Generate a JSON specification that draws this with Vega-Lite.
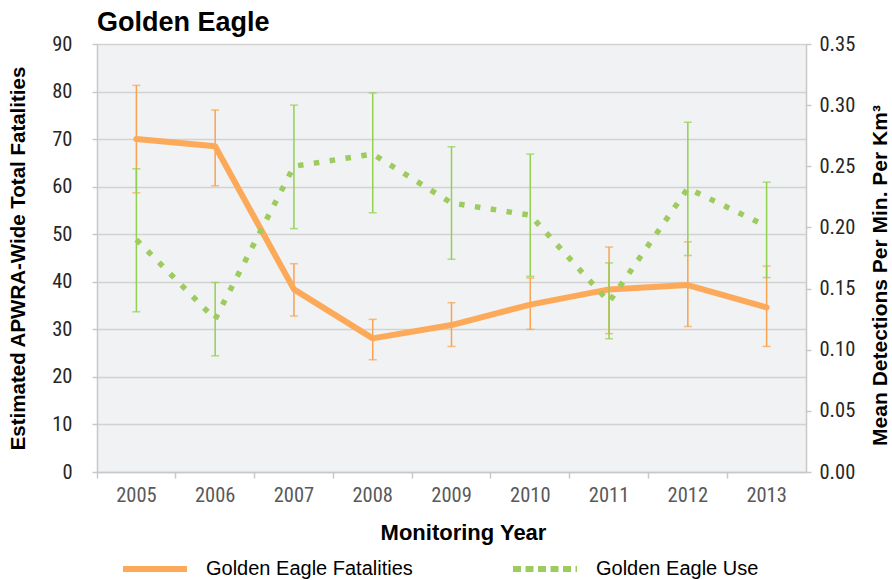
{
  "$schema": "https://vega.github.io/schema/vega-lite/v6.json",
  "width": 709,
  "height": 428,
  "autosize": {"type": "none"},
  "padding": {"left": 97, "top": 44, "right": 86, "bottom": 108},
  "background": "white",
  "config": {
    "view": {"fill": "#f1f2f4", "stroke": null},
    "font": "Liberation Sans",
    "legend": {
      "orient": "none",
      "legendX": 23,
      "legendY": 490,
      "direction": "horizontal",
      "padding": 0,
      "symbolType": "stroke",
      "symbolSize": 4096,
      "symbolStrokeWidth": 6,
      "labelFont": "Liberation Sans",
      "labelFontSize": 20,
      "labelColor": "#000000",
      "labelOffset": 16,
      "labelLimit": 400,
      "columnPadding": 88
    }
  },
  "title": {
    "text": "Golden Eagle",
    "anchor": "start",
    "frame": "group",
    "fontSize": 27,
    "fontWeight": "bold",
    "font": "Liberation Sans",
    "color": "#000000",
    "baseline": "alphabetic",
    "offset": -24
  },
  "data": {
    "values": [
      {"year": "2005", "fatal": 70.0, "fatal_lo": 58.7, "fatal_hi": 81.3, "use": 0.190, "use_lo": 0.131, "use_hi": 0.248},
      {"year": "2006", "fatal": 68.5, "fatal_lo": 60.2, "fatal_hi": 76.1, "use": 0.125, "use_lo": 0.095, "use_hi": 0.155},
      {"year": "2007", "fatal": 38.4, "fatal_lo": 32.8, "fatal_hi": 43.8, "use": 0.250, "use_lo": 0.199, "use_hi": 0.300},
      {"year": "2008", "fatal": 28.1, "fatal_lo": 23.6, "fatal_hi": 32.1, "use": 0.260, "use_lo": 0.212, "use_hi": 0.310},
      {"year": "2009", "fatal": 30.9, "fatal_lo": 26.4, "fatal_hi": 35.6, "use": 0.220, "use_lo": 0.174, "use_hi": 0.266},
      {"year": "2010", "fatal": 35.2, "fatal_lo": 30.0, "fatal_hi": 40.8, "use": 0.210, "use_lo": 0.160, "use_hi": 0.260},
      {"year": "2011", "fatal": 38.4, "fatal_lo": 29.1, "fatal_hi": 47.3, "use": 0.139, "use_lo": 0.109, "use_hi": 0.171},
      {"year": "2012", "fatal": 39.3, "fatal_lo": 30.6, "fatal_hi": 48.4, "use": 0.232, "use_lo": 0.177, "use_hi": 0.286},
      {"year": "2013", "fatal": 34.6, "fatal_lo": 26.4, "fatal_hi": 43.3, "use": 0.201, "use_lo": 0.159, "use_hi": 0.237}
    ]
  },
  "encoding": {
    "x": {
      "field": "year",
      "type": "ordinal",
      "scale": {"type": "band", "paddingInner": 0, "paddingOuter": 0},
      "axis": {
        "title": "Monitoring Year",
        "titleFont": "Liberation Sans",
        "titleFontSize": 22,
        "titleFontWeight": "bold",
        "titleColor": "#000000",
        "titleX": 366,
        "titleY": 60,
        "titleBaseline": "middle",
        "labelAngle": 0,
        "labelFont": "Liberation Sans Narrow, Roboto Condensed, Roboto",
        "labelFontSize": 20.5,
        "labelColor": "#595959",
        "labelPadding": 7,
        "bandPosition": 0,
        "labelOffset": 0,
        "domainColor": "#c8c8c8",
        "domainWidth": 1.5,
        "tickColor": "#c8c8c8",
        "tickWidth": 1.5,
        "tickSize": 6,
        "grid": false
      }
    }
  },
  "layer": [
    {
      "layer": [
        {
          "mark": {"type": "rule", "color": "#f9a24f", "strokeWidth": 1.5},
          "encoding": {
            "y": {
              "field": "fatal_lo",
              "type": "quantitative",
              "scale": {"domain": [0, 90]},
              "axis": {
                "title": "Estimated APWRA-Wide Total Fatalities",
                "titleFont": "Liberation Sans",
                "titleFontSize": 20.5,
                "titleFontWeight": "bold",
                "titleColor": "#000000",
                "titleAngle": 270,
                "titleX": -79,
                "titleY": 214,
                "titleBaseline": "middle",
                "titleAlign": "center",
                "values": [0, 10, 20, 30, 40, 50, 60, 70, 80, 90],
                "labelFont": "Liberation Sans Narrow, Roboto Condensed, Roboto",
                "labelFontSize": 20.5,
                "labelColor": "#262626",
                "labelPadding": 20,
                "tickColor": "#c8c8c8",
                "tickWidth": 1.5,
                "tickSize": 5,
                "domainColor": "#c8c8c8",
                "domainWidth": 1.5,
                "grid": true,
                "gridColor": "#d2d2d2",
                "gridWidth": 1.5
              }
            },
            "y2": {"field": "fatal_hi"}
          }
        },
        {
          "mark": {"type": "tick", "color": "#f9a24f", "thickness": 1.5, "size": 8},
          "encoding": {"y": {"field": "fatal_lo", "type": "quantitative"}}
        },
        {
          "mark": {"type": "tick", "color": "#f9a24f", "thickness": 1.5, "size": 8},
          "encoding": {"y": {"field": "fatal_hi", "type": "quantitative"}}
        },
        {
          "mark": {"type": "line", "strokeWidth": 6, "strokeCap": "round", "strokeJoin": "round"},
          "encoding": {
            "y": {"field": "fatal", "type": "quantitative"},
            "color": {
              "datum": "Golden Eagle Fatalities",
              "scale": {"domain": ["Golden Eagle Fatalities", "Golden Eagle Use"], "range": ["#fcaa5a", "#9dcb5e"]},
              "legend": {
                "title": null,
                "encode": {
                  "symbols": {
                    "update": {
                      "strokeDash": {"signal": "datum.value === 'Golden Eagle Use' ? [8, 4.5] : [64, 0]"}
                    }
                  }
                }
              }
            }
          }
        }
      ]
    },
    {
      "layer": [
        {
          "mark": {"type": "rule", "color": "#92d050", "strokeWidth": 1.5},
          "encoding": {
            "y": {
              "field": "use_lo",
              "type": "quantitative",
              "scale": {"domain": [0, 0.35]},
              "axis": {
                "orient": "right",
                "title": "Mean Detections Per Min. Per Km³",
                "titleFont": "Liberation Sans",
                "titleFontSize": 21,
                "titleFontWeight": "bold",
                "titleColor": "#000000",
                "titleAngle": 270,
                "titleX": 74,
                "titleY": 231,
                "titleBaseline": "middle",
                "titleAlign": "center",
                "values": [0, 0.05, 0.1, 0.15, 0.2, 0.25, 0.3, 0.35],
                "format": ".2f",
                "labelFont": "Liberation Sans Narrow, Roboto Condensed, Roboto",
                "labelFontSize": 20.5,
                "labelColor": "#262626",
                "labelPadding": 8,
                "tickColor": "#c8c8c8",
                "tickWidth": 1.5,
                "tickSize": 5,
                "domainColor": "#c8c8c8",
                "domainWidth": 1.5,
                "grid": false
              }
            },
            "y2": {"field": "use_hi"}
          }
        },
        {
          "mark": {"type": "tick", "color": "#92d050", "thickness": 1.5, "size": 8},
          "encoding": {"y": {"field": "use_lo", "type": "quantitative"}}
        },
        {
          "mark": {"type": "tick", "color": "#92d050", "thickness": 1.5, "size": 8},
          "encoding": {"y": {"field": "use_hi", "type": "quantitative"}}
        },
        {
          "mark": {"type": "line", "strokeWidth": 5.5, "strokeDash": [5.5, 10.5], "strokeCap": "butt"},
          "encoding": {
            "y": {"field": "use", "type": "quantitative"},
            "color": {"datum": "Golden Eagle Use"}
          }
        }
      ]
    }
  ],
  "resolve": {"scale": {"y": "independent"}}
}
